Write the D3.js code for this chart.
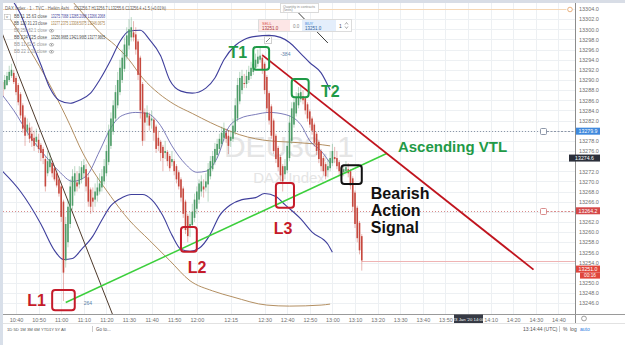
<!DOCTYPE html>
<html>
<head>
<meta charset="utf-8">
<script src="https://d3js.org/d3.v7.min.js"></script>
<style>
  body { margin: 0; background: #fff; }
  svg { display: block; font-family: 'Liberation Sans', Arial, sans-serif; }
  .axis .tick text { fill: #6f6f6f; font-size: 5.5px; }
  .axis .domain { display: none; }
  .note { font-weight: bold; }
</style>
</head>
<body>
<svg id="chart" width="625" height="345"></svg>
<script>
// Heikin Ashi 1-minute bars, first bar at 10:34
const barStart = '10:34';

const haOpen = [
  13289.6, 13288.2, 13289.0, 13290.0, 13290.8, 13291.4, 13290.4, 13289.0, 13287.2, 13285.0,
  13282.6, 13280.0, 13280.6, 13279.4, 13278.6, 13277.8, 13278.2, 13277.2, 13276.4, 13274.4,
  13271.6, 13272.8, 13273.6, 13272.6, 13271.6, 13270.4, 13269.0, 13266.0, 13254.4, 13258.0,
  13261.6, 13265.2, 13268.0, 13269.8, 13269.4, 13270.4, 13271.6, 13272.4, 13270.8, 13268.4,
  13266.8, 13266.4, 13267.2, 13268.0, 13268.8, 13270.0, 13271.6, 13273.8, 13277.0, 13279.8,
  13282.4, 13285.0, 13287.6, 13290.0, 13292.2, 13294.6, 13296.8, 13298.4, 13299.4, 13299.0,
  13297.6, 13294.4, 13289.2, 13283.6, 13282.6, 13283.0, 13282.0, 13282.2, 13280.8, 13278.6,
  13277.8, 13276.8, 13275.6, 13275.8, 13275.0, 13273.8, 13274.0, 13273.0, 13271.8, 13270.4,
  13268.6, 13266.0, 13263.2, 13261.2, 13261.4, 13262.8, 13264.6, 13266.4, 13268.0, 13269.0,
  13268.8, 13269.4, 13271.0, 13272.4, 13273.8, 13275.2, 13276.4, 13277.4, 13278.6, 13279.6,
  13279.0, 13278.0, 13278.4, 13279.8, 13282.4, 13285.8, 13288.0, 13289.4, 13289.2, 13290.0,
  13290.8, 13291.6, 13292.4, 13293.2, 13294.0, 13294.4, 13293.2, 13290.6, 13287.4, 13284.8,
  13282.0, 13279.0, 13276.6, 13274.8, 13273.0, 13271.4, 13272.2, 13274.6, 13278.0, 13281.2,
  13283.4, 13285.0, 13286.2, 13286.8, 13286.4, 13285.2, 13283.8, 13282.4, 13281.2, 13279.4,
  13277.8, 13276.0, 13274.6, 13273.4, 13272.2, 13272.6, 13273.6, 13274.8, 13274.6, 13273.8,
  13272.8, 13271.8, 13272.0, 13272.4, 13272.0, 13270.6, 13267.8, 13264.8, 13261.8, 13259.2
];
const haClose = [
  13286.8, 13290.0, 13290.8, 13291.6, 13292.0, 13289.6, 13287.6, 13285.6, 13283.0, 13280.4,
  13279.0, 13281.2, 13278.4, 13278.0, 13277.0, 13278.8, 13276.4, 13275.6, 13274.6, 13269.0,
  13274.0, 13274.4, 13271.6, 13270.4, 13269.2, 13267.6, 13263.0, 13252.0, 13261.6, 13265.0,
  13269.0, 13271.0, 13271.6, 13269.0, 13271.6, 13272.8, 13273.2, 13269.0, 13266.0, 13265.0,
  13266.0, 13268.0, 13268.8, 13269.6, 13271.0, 13273.0, 13276.0, 13280.0, 13282.4, 13285.0,
  13287.6, 13290.0, 13292.4, 13294.4, 13297.0, 13298.8, 13300.0, 13300.4, 13298.4, 13296.0,
  13291.0, 13284.0, 13278.0, 13281.6, 13283.6, 13281.0, 13282.4, 13279.6, 13276.4, 13277.0,
  13275.6, 13274.6, 13276.0, 13274.0, 13272.6, 13274.4, 13272.0, 13270.4, 13269.0, 13266.8,
  13263.6, 13260.4, 13259.2, 13261.6, 13264.0, 13266.4, 13268.0, 13269.6, 13270.0, 13268.4,
  13270.0, 13272.4, 13274.0, 13275.0, 13276.4, 13277.4, 13278.4, 13279.6, 13280.4, 13278.4,
  13277.0, 13278.8, 13281.0, 13285.0, 13289.0, 13290.4, 13290.8, 13289.2, 13290.8, 13291.6,
  13292.4, 13293.2, 13294.0, 13294.6, 13294.8, 13292.0, 13288.0, 13284.4, 13282.0, 13279.0,
  13276.0, 13274.4, 13272.8, 13271.2, 13270.0, 13273.0, 13277.0, 13281.6, 13284.4, 13285.6,
  13286.6, 13287.4, 13287.6, 13286.0, 13284.0, 13282.4, 13281.2, 13280.0, 13277.6, 13276.0,
  13274.4, 13273.0, 13272.0, 13271.0, 13273.0, 13274.6, 13276.0, 13274.4, 13273.0, 13272.0,
  13271.0, 13272.4, 13272.8, 13271.6, 13269.2, 13265.0, 13261.6, 13258.8, 13256.4, 13254.4
];
const haHigh = [
  13291.6, 13291.0, 13291.6, 13292.8, 13293.2, 13292.0, 13290.8, 13289.4, 13287.6, 13285.4,
  13283.0, 13282.4, 13281.6, 13280.8, 13280.0, 13280.4, 13279.4, 13277.6, 13276.8, 13275.0,
  13276.0, 13275.6, 13274.0, 13273.0, 13272.0, 13270.8, 13269.4, 13266.4, 13263.0, 13266.4,
  13270.4, 13272.4, 13273.0, 13272.0, 13273.0, 13274.0, 13274.4, 13273.4, 13271.6, 13268.8,
  13268.8, 13269.6, 13270.8, 13271.6, 13272.4, 13274.4, 13277.2, 13281.2, 13283.6, 13286.0,
  13289.0, 13291.6, 13294.0, 13296.0, 13298.4, 13300.4, 13302.0, 13302.4, 13301.6, 13300.4,
  13298.0, 13294.8, 13289.6, 13284.4, 13285.0, 13283.6, 13284.0, 13282.6, 13281.2, 13280.0,
  13278.2, 13277.2, 13278.0, 13276.2, 13275.4, 13276.0, 13274.4, 13273.4, 13272.2, 13270.8,
  13269.0, 13266.4, 13263.6, 13264.0, 13265.6, 13267.6, 13269.0, 13270.4, 13271.2, 13270.4,
  13271.6, 13273.6, 13275.0, 13276.0, 13277.6, 13278.4, 13279.4, 13280.8, 13281.6, 13280.4,
  13280.0, 13280.0, 13282.4, 13286.4, 13290.4, 13291.6, 13292.0, 13291.2, 13292.0, 13292.8,
  13293.6, 13294.4, 13295.2, 13296.0, 13296.4, 13295.2, 13293.6, 13291.0, 13287.8, 13285.2,
  13282.4, 13279.4, 13277.0, 13275.2, 13273.4, 13274.4, 13278.0, 13283.0, 13285.6, 13286.8,
  13287.6, 13288.6, 13288.8, 13288.0, 13286.8, 13285.6, 13284.2, 13282.8, 13281.6, 13279.8,
  13278.2, 13276.4, 13275.0, 13273.8, 13274.4, 13276.0, 13277.4, 13276.8, 13276.0, 13274.2,
  13273.2, 13273.4, 13274.0, 13273.6, 13272.4, 13271.0, 13268.2, 13265.2, 13262.2, 13259.6
];
const haLow = [
  13286.4, 13288.0, 13288.8, 13289.6, 13290.4, 13289.2, 13287.0, 13285.0, 13282.4, 13279.6,
  13277.0, 13279.0, 13277.6, 13276.8, 13276.0, 13276.8, 13275.6, 13274.0, 13273.4, 13268.0,
  13271.0, 13272.0, 13270.8, 13270.0, 13268.8, 13267.0, 13262.0, 13246.4, 13253.0, 13257.0,
  13260.8, 13264.4, 13267.2, 13268.0, 13268.6, 13269.6, 13270.8, 13268.0, 13265.0, 13263.6,
  13264.0, 13265.0, 13266.0, 13267.4, 13268.0, 13269.4, 13271.0, 13273.2, 13276.4, 13279.2,
  13281.8, 13284.4, 13287.0, 13289.4, 13291.6, 13294.0, 13296.0, 13297.6, 13297.6, 13295.0,
  13290.0, 13282.4, 13277.0, 13278.0, 13281.0, 13280.0, 13280.4, 13278.0, 13275.6, 13276.0,
  13274.0, 13272.0, 13274.4, 13273.0, 13272.0, 13273.0, 13271.2, 13269.6, 13268.4, 13266.0,
  13262.8, 13259.6, 13258.0, 13259.0, 13260.8, 13262.0, 13263.6, 13265.6, 13267.0, 13266.8,
  13268.0, 13266.0, 13270.4, 13272.0, 13273.2, 13274.6, 13275.8, 13276.8, 13278.0, 13277.6,
  13275.4, 13276.8, 13277.8, 13279.2, 13281.8, 13285.2, 13287.2, 13288.4, 13288.4, 13289.4,
  13290.2, 13291.0, 13291.8, 13292.6, 13293.4, 13291.2, 13287.2, 13283.6, 13281.2, 13278.4,
  13275.4, 13273.6, 13272.0, 13270.0, 13268.0, 13270.4, 13271.6, 13274.0, 13277.4, 13280.6,
  13282.8, 13284.4, 13285.6, 13285.2, 13283.2, 13281.8, 13280.6, 13279.2, 13276.8, 13275.2,
  13273.6, 13272.0, 13271.2, 13270.4, 13270.8, 13272.0, 13273.0, 13273.6, 13272.4, 13271.2,
  13270.4, 13271.0, 13271.4, 13270.8, 13268.4, 13264.0, 13260.8, 13258.0, 13255.6, 13252.4
];

// Bollinger bands and moving averages [time, price]
const bandUpper = [
  ['10:38', 13306.0], ['10:42', 13303.0], ['10:46', 13298.4], ['10:51', 13293.0], ['10:55', 13288.4],
  ['10:59', 13286.0], ['11:04', 13285.4], ['11:08', 13286.0], ['11:13', 13287.4], ['11:17', 13290.0],
  ['11:22', 13294.0], ['11:26', 13297.6], ['11:30', 13299.6], ['11:35', 13299.8], ['11:39', 13298.0],
  ['11:44', 13294.8], ['11:48', 13290.0], ['11:53', 13287.8], ['11:58', 13287.4], ['12:04', 13288.4],
  ['12:08', 13290.4], ['12:12', 13294.0], ['12:17', 13296.8], ['12:21', 13298.0], ['12:26', 13298.6],
  ['12:32', 13298.8], ['12:37', 13298.4], ['12:41', 13297.4], ['12:46', 13295.2], ['12:50', 13293.4],
  ['12:55', 13291.4], ['12:59', 13288.0]
];
const bandMid = [
  ['10:34', 13287.0], ['10:39', 13284.0], ['10:46', 13279.0], ['10:53', 13275.0], ['10:59', 13272.0],
  ['11:05', 13270.0], ['11:11', 13271.0], ['11:17', 13276.0], ['11:22', 13280.6], ['11:27', 13283.0],
  ['11:33', 13283.6], ['11:38', 13283.4], ['11:44', 13281.0], ['11:49', 13277.0], ['11:55', 13273.4],
  ['12:00', 13271.8], ['12:04', 13272.0], ['12:09', 13274.6], ['12:14', 13280.6], ['12:19', 13282.4],
  ['12:26', 13283.2], ['12:32', 13283.6], ['12:39', 13283.2], ['12:46', 13281.2], ['12:50', 13278.0],
  ['12:55', 13276.0], ['12:59', 13273.6]
];
const bandLower = [
  ['10:34', 13272.0], ['10:42', 13268.0], ['10:51', 13261.6], ['10:57', 13256.4], ['11:01', 13254.6],
  ['11:05', 13254.8], ['11:09', 13256.6], ['11:14', 13259.2], ['11:18', 13262.4], ['11:22', 13265.2],
  ['11:27', 13266.8], ['11:31', 13267.4], ['11:36', 13267.4], ['11:40', 13266.4], ['11:45', 13263.2],
  ['11:49', 13259.4], ['11:53', 13256.6], ['11:57', 13256.2], ['12:01', 13256.8], ['12:06', 13259.6],
  ['12:10', 13263.2], ['12:15', 13265.4], ['12:20', 13266.4], ['12:26', 13266.8], ['12:30', 13267.6],
  ['12:35', 13267.0], ['12:39', 13265.4], ['12:46', 13262.6], ['12:51', 13260.0], ['12:58', 13257.6],
  ['13:00', 13256.0]
];
const maUpper = [
  ['11:04', 13306.0], ['11:11', 13302.4], ['11:17', 13299.4], ['11:24', 13296.8], ['11:30', 13294.0],
  ['11:36', 13290.4], ['11:43', 13287.4], ['11:50', 13285.2], ['11:58', 13283.4], ['12:06', 13281.6],
  ['12:12', 13280.4], ['12:19', 13279.2], ['12:26', 13278.4], ['12:32', 13278.0], ['12:39', 13277.8],
  ['12:46', 13277.6], ['12:52', 13277.4], ['12:59', 13277.0]
];
const maLower = [
  ['10:36', 13303.0], ['10:46', 13296.0], ['10:55', 13289.0], ['11:04', 13281.0], ['11:08', 13277.0],
  ['11:22', 13267.0], ['11:30', 13262.4], ['11:39', 13258.4], ['11:48', 13254.4], ['11:57', 13250.4],
  ['12:07', 13248.4], ['12:16', 13247.2], ['12:31', 13245.6], ['12:41', 13245.4], ['12:55', 13245.6],
  ['12:59', 13245.8]
];

// drawn trend lines
const darkTrend = [['10:30', 13303.6], ['11:24', 13242.3]];
const darkTrend2 = [['12:40', 13305.5], ['12:58', 13297.3]];
const resistanceLine = [['12:29', 13294.9], ['14:29', 13252.6]];
const supportLine = [['11:02', 13246.1], ['13:24', 13275.5]];

// highlight boxes: [from, to, top price, bottom price]
const redBoxes = [
  ['10:56', '11:06', 13248.6, 13244.6],
  ['11:53', '12:00', 13261.0, 13256.1],
  ['12:35', '12:43', 13269.7, 13264.8]
];
const greenBoxes = [
  ['12:25', '12:32', 13296.5, 13292.0],
  ['12:42', '12:49:30', 13290.2, 13286.6]
];
const signalBox = ['13:04', '13:13', 13273.2, 13269.5];

const redNotes = [['L1', '10:45', 13245.4], ['L2', '11:56', 13251.9], ['L3', '12:34', 13259.6]];
const greenNotes = [['T1', '12:14', 13294.3], ['T2', '12:55', 13286.6], ['Ascending VTL', '13:29', 13275.8]];
const signalNote = [['Bearish', 'Action', 'Signal'], '13:17', 13266.5];

const priceTicks = [
  13304.0, 13302.0, 13300.0, 13298.0, 13296.0, 13294.0, 13292.0, 13290.0, 13288.0, 13286.0,
  13284.0, 13282.0, 13280.0, 13278.0, 13276.0, 13274.0, 13272.0, 13270.0, 13268.0, 13266.0,
  13264.0, 13262.0, 13260.0, 13258.0, 13256.0, 13254.0, 13252.0, 13250.0, 13248.0, 13246.0
];
const timeTicks = [
  '10:40', '10:50', '11:00', '11:10', '11:20', '11:30', '11:40', '11:50', '12:00', '12:15',
  '12:30', '12:40', '12:50', '13:00', '13:10', '13:20', '13:30', '13:40', '13:50', '14:10',
  '14:20', '14:30', '14:40'
];
const orderPrices = [13279.9, 13264.2];
const lastPrice = 13274.6;
const bidPrice = 13252.7;
const quote = '13251.0';

const legendRows = [
  ['BB 11 15.63 close', '13275.7068  13285.2068  13266.2068'],
  ['BB 120 31.23 close', '13277.2375  13308.5075  13246.0675'],
  ['BB 250 62.1 close', ''],
  ['BB 234 125 close', '13256.9665  13421.9665  13177.9665'],
  ['BB 11 62.5 close', ''],
  ['BB 22 1.28 close', '']
];
const rangeButtons = ['1D', '5D', '1M', '3M', '6M', 'YTD', '1Y', '5Y', 'All'];

const parseTime = s => {
  const [h, m, sec] = s.split(':').map(Number);
  return new Date(2020, 0, 23, h, m, sec || 0);
};

const plot = { left: 3, right: 575, top: 3, bottom: 314 };
const svg = d3.select('#chart');

const x = d3.scaleTime()
  .domain([parseTime('10:40'), parseTime('14:40')])
  .range([16, 558.4]);
const y = d3.scaleLinear()
  .domain([13304, 13246])
  .range([9, 303.06]);

svg.append('rect').attr('width', 625).attr('height', 345).attr('fill', '#fff');

svg.append('clipPath').attr('id', 'plotClip')
  .append('rect')
  .attr('x', plot.left).attr('y', plot.top)
  .attr('width', plot.right - plot.left).attr('height', plot.bottom - plot.top);

// grid
const grid = svg.append('g').attr('stroke', '#edf0f3').attr('stroke-width', 1);
grid.selectAll('line.h').data(priceTicks).join('line')
  .attr('x1', plot.left).attr('x2', plot.right)
  .attr('y1', d => Math.round(y(d)) + 0.5).attr('y2', d => Math.round(y(d)) + 0.5);
grid.selectAll('line.v').data(timeTicks.concat(['14:00'])).join('line')
  .attr('y1', plot.top).attr('y2', plot.bottom)
  .attr('x1', d => Math.round(x(parseTime(d))) + 0.5).attr('x2', d => Math.round(x(parseTime(d))) + 0.5);

// watermark
svg.append('text').attr('x', 289).attr('y', 157).attr('text-anchor', 'middle')
  .attr('font-size', 30).attr('fill', '#e5e5e5').text('DEU30, 1');
svg.append('text').attr('x', 289).attr('y', 183).attr('text-anchor', 'middle')
  .attr('font-size', 15).attr('fill', '#e5e5e5').text('DAX Index');

const chart = svg.append('g').attr('clip-path', 'url(#plotClip)');

// alert line at the top and last price line
chart.append('line').attr('x1', plot.left).attr('x2', 566)
  .attr('y1', 9.5).attr('y2', 9.5).attr('stroke', '#f5d7b5');
chart.append('line').attr('x1', x(parseTime('13:13'))).attr('x2', plot.right)
  .attr('y1', Math.round(y(13254.3)) + 0.5).attr('y2', Math.round(y(13254.3)) + 0.5)
  .attr('stroke', '#efb4b4');

// order lines
const orderColors = ['#8d97a8', '#d98c8c'];
orderPrices.forEach((p, i) => {
  const yy = Math.round(y(p)) + 0.5;
  chart.append('line').attr('x1', plot.left).attr('x2', 540)
    .attr('y1', yy).attr('y2', yy)
    .attr('stroke', orderColors[i]).attr('stroke-dasharray', '1,2');
  chart.append('line').attr('x1', 547).attr('x2', plot.right)
    .attr('y1', yy).attr('y2', yy)
    .attr('stroke', orderColors[i]).attr('stroke-dasharray', '2,1.5');
  chart.append('rect').attr('x', 540.5).attr('y', yy - 3).attr('width', 6).attr('height', 6)
    .attr('rx', 1).attr('fill', '#fff').attr('stroke', orderColors[i]);
});

const line = d3.line()
  .x(d => x(parseTime(d[0])))
  .y(d => y(d[1]))
  .curve(d3.curveMonotoneX);

[maUpper, maLower].forEach(data => {
  chart.append('path').datum(data).attr('d', line)
    .attr('fill', 'none').attr('stroke', '#b38f62').attr('stroke-width', 1);
});
chart.append('path').datum(bandMid).attr('d', line)
  .attr('fill', 'none').attr('stroke', '#5a5aa8').attr('stroke-width', 0.8);
[bandUpper, bandLower].forEach(data => {
  chart.append('path').datum(data).attr('d', line)
    .attr('fill', 'none').attr('stroke', '#3f3f9c').attr('stroke-width', 1.1);
});

const straight = d3.line().x(d => x(parseTime(d[0]))).y(d => y(d[1]));
chart.append('path').datum(darkTrend).attr('d', straight)
  .attr('stroke', '#4e3a2c').attr('stroke-width', 1);
chart.append('path').datum(darkTrend2).attr('d', straight)
  .attr('stroke', '#3a3a3a').attr('stroke-width', 1);

// candles
const bars = haOpen.map((o, i) => ({
  t: d3.timeMinute.offset(parseTime(barStart), i),
  o, c: haClose[i], h: haHigh[i], l: haLow[i]
}));
const upColor = '#4f9d69', downColor = '#c6483e';
const candles = chart.append('g');
candles.selectAll('line').data(bars).join('line')
  .attr('x1', d => x(d.t)).attr('x2', d => x(d.t))
  .attr('y1', d => y(d.h)).attr('y2', d => y(d.l))
  .attr('stroke', d => d.c >= d.o ? upColor : downColor)
  .attr('stroke-opacity', 0.5).attr('stroke-width', 0.8);
candles.selectAll('rect').data(bars).join('rect')
  .attr('x', d => x(d.t) - 0.8).attr('width', 1.6)
  .attr('y', d => y(Math.max(d.o, d.c)))
  .attr('height', d => Math.max(0.8, Math.abs(y(d.o) - y(d.c))))
  .attr('fill', d => d.c >= d.o ? upColor : downColor);

// annotations
chart.append('path').datum(supportLine).attr('d', straight)
  .attr('stroke', '#3ccf3c').attr('stroke-width', 1.5);
chart.append('path').datum(resistanceLine).attr('d', straight)
  .attr('stroke', '#c0141e').attr('stroke-width', 1.8);

const drawBox = (b, color) => {
  chart.append('rect')
    .attr('x', x(parseTime(b[0]))).attr('y', y(b[2]))
    .attr('width', x(parseTime(b[1])) - x(parseTime(b[0])))
    .attr('height', y(b[3]) - y(b[2]))
    .attr('rx', 3).attr('fill', 'none')
    .attr('stroke', color).attr('stroke-width', 2);
};
redBoxes.forEach(b => drawBox(b, '#c51b2a'));
greenBoxes.forEach(b => drawBox(b, '#1f9a47'));
drawBox(signalBox, '#111');

const drawNote = (n, color) => {
  svg.append('text').attr('class', 'note')
    .attr('x', x(parseTime(n[1]))).attr('y', y(n[2]))
    .attr('font-size', n[0].length > 2 ? 15 : 16)
    .attr('fill', color).text(n[0]);
};
redNotes.forEach(n => drawNote(n, '#c51b2a'));
greenNotes.forEach(n => drawNote(n, '#1f9a47'));
const sig = svg.append('text').attr('class', 'note')
  .attr('x', x(parseTime(signalNote[1]))).attr('y', y(signalNote[2]))
  .attr('font-size', 16).attr('fill', '#111');
signalNote[0].forEach((w, i) => {
  sig.append('tspan').attr('x', x(parseTime(signalNote[1]))).attr('dy', i ? 17 : 0).text(w);
});

svg.append('text').attr('x', x(parseTime('11:10'))).attr('y', y(13245.6))
  .attr('font-size', 5).attr('fill', '#5b7fa8').text('264');
svg.append('text').attr('x', x(parseTime('12:37'))).attr('y', y(13294.7))
  .attr('font-size', 5).attr('fill', '#5b7fa8').text('-384');

// pencil icon and trading panel
svg.append('rect').attr('x', 264.5).attr('y', 36.5).attr('width', 7).attr('height', 7)
  .attr('fill', '#fff').attr('stroke', '#cfcfcf');
svg.append('line').attr('x1', 266).attr('y1', 42).attr('x2', 270).attr('y2', 38).attr('stroke', '#888');

svg.append('rect').attr('x', 280.5).attr('y', 3.5).attr('width', 38).attr('height', 9)
  .attr('fill', '#fff').attr('stroke', '#dadada');
svg.append('text').attr('x', 283).attr('y', 7.5).attr('font-size', 3.5).attr('fill', '#888').text('Quantity in contracts');
svg.append('text').attr('x', 283).attr('y', 11).attr('font-size', 3.5).attr('fill', '#888').text('(units)');

const panel = svg.append('g');
panel.append('rect').attr('x', 258.5).attr('y', 19.5).attr('width', 93).attr('height', 12)
  .attr('fill', '#fff').attr('stroke', '#dcdcdc');
panel.append('rect').attr('x', 259).attr('y', 20).attr('width', 31).attr('height', 11).attr('fill', '#fde6e6');
panel.append('rect').attr('x', 302).attr('y', 20).attr('width', 34).attr('height', 11).attr('fill', '#e4eefb');
panel.append('text').attr('x', 262).attr('y', 24.5).attr('font-size', 4).attr('fill', '#d9534f').text('SELL');
panel.append('text').attr('x', 262).attr('y', 29.5).attr('font-size', 4.5).attr('fill', '#a33').text(quote);
panel.append('text').attr('x', 293).attr('y', 27.5).attr('font-size', 4.5).attr('fill', '#888').text('0.0');
panel.append('text').attr('x', 305).attr('y', 24.5).attr('font-size', 4).attr('fill', '#3d86d8').text('BUY');
panel.append('text').attr('x', 305).attr('y', 29.5).attr('font-size', 4.5).attr('fill', '#2f5f9e').text(quote);
panel.append('text').attr('x', 339).attr('y', 28).attr('font-size', 5).attr('fill', '#555').text('1');
panel.append('path').attr('d', 'M345,24.5 L346.5,22.5 L348,24.5 M345,26.5 L346.5,28.5 L348,26.5')
  .attr('fill', 'none').attr('stroke', '#777').attr('stroke-width', 0.6);

// legend
const legend = svg.append('g').attr('font-size', 4.5);
legend.append('text').attr('x', 5).attr('y', 10).attr('fill', '#666')
  .attr('textLength', 64).attr('lengthAdjust', 'spacingAndGlyphs')
  .text('DAX Index · 1 · TVC · Heikin Ashi');
legend.append('text').attr('x', 74).attr('y', 10).attr('fill', '#555')
  .attr('textLength', 92).attr('lengthAdjust', 'spacingAndGlyphs')
  .text('O13256.7 H13256.7 L13255.6 C13256.4 +1.5 (+0.01%)');
legend.append('rect').attr('x', 4.5).attr('y', 14.5).attr('width', 6).attr('height', 5)
  .attr('fill', '#fff').attr('stroke', '#bbb').attr('stroke-width', 0.6);
legend.append('text').attr('x', 6).attr('y', 18.3).attr('font-size', 4).attr('fill', '#666').text('v');
const legendColors = ['#3f3f9c', '#a57c45', '#999', '#444', '#999', '#999'];
legendRows.forEach((r, i) => {
  const yy = 18.3 + i * 7;
  legend.append('text').attr('x', 14).attr('y', yy).attr('fill', r[1] ? '#555' : '#999')
    .attr('textLength', 33).attr('lengthAdjust', 'spacingAndGlyphs').text(r[0]);
  if (r[1]) {
    legend.append('text').attr('x', 51).attr('y', yy).attr('fill', legendColors[i])
      .attr('textLength', 54).attr('lengthAdjust', 'spacingAndGlyphs').text(r[1]);
  } else {
    legend.append('ellipse').attr('cx', 51.5).attr('cy', yy - 1.6).attr('rx', 2.2).attr('ry', 1.4)
      .attr('fill', 'none').attr('stroke', '#888').attr('stroke-width', 0.6);
    legend.append('circle').attr('cx', 51.5).attr('cy', yy - 1.6).attr('r', 0.7).attr('fill', '#888');
  }
});

// frame and axes
svg.append('rect').attr('width', 625).attr('height', 3).attr('fill', '#d8dde6');
svg.append('rect').attr('width', 3).attr('height', 345).attr('fill', '#d8dfe9');
svg.append('line').attr('x1', plot.right + 0.5).attr('x2', plot.right + 0.5)
  .attr('y1', plot.top).attr('y2', 323).attr('stroke', '#8c8c8c');
svg.append('line').attr('x1', plot.left).attr('x2', 625)
  .attr('y1', plot.bottom + 0.5).attr('y2', plot.bottom + 0.5).attr('stroke', '#9a9a9a');
svg.append('line').attr('x1', plot.left).attr('x2', 625)
  .attr('y1', 323.5).attr('y2', 323.5).attr('stroke', '#e2e2e2');

// price labels hide the ticks they cover
const coveredY = [y(orderPrices[0]), y(lastPrice), y(orderPrices[1]), y(bidPrice), y(bidPrice) + 6.5];
svg.append('g').attr('class', 'axis')
  .attr('transform', `translate(${plot.right},0)`)
  .call(d3.axisRight(y).tickValues(priceTicks).tickFormat(d3.format('.1f')).tickSize(0).tickPadding(4))
  .call(g => g.selectAll('.tick text')
    .attr('display', d => coveredY.some(c => Math.abs(c - y(d)) < 6.5) ? 'none' : null));

svg.append('g').attr('class', 'axis')
  .attr('transform', `translate(0,${plot.bottom})`)
  .call(d3.axisBottom(x).tickValues(timeTicks.map(parseTime)).tickFormat(d3.timeFormat('%H:%M')).tickSize(0).tickPadding(4));

svg.append('circle').attr('cx', 570).attr('cy', 9.5).attr('r', 2.3)
  .attr('fill', '#fff').attr('stroke', '#e0904a').attr('stroke-width', 0.7);

const priceLabel = (p, color, text, x0, w) => {
  const yy = y(p);
  svg.append('rect').attr('x', x0).attr('y', yy - 3.5).attr('width', w).attr('height', 7).attr('fill', color);
  svg.append('text').attr('x', x0 + w / 2).attr('y', yy).attr('dy', '0.35em')
    .attr('text-anchor', 'middle').attr('font-size', 5.2).attr('fill', '#fff').text(text);
};
priceLabel(orderPrices[0], '#3f88dc', d3.format('.1f')(orderPrices[0]), 576, 24);
priceLabel(lastPrice, '#2b2f3a', d3.format('.1f')(lastPrice), 569, 31);
priceLabel(orderPrices[1], '#d44848', d3.format('.1f')(orderPrices[1]), 576, 24);
priceLabel(bidPrice, '#e0463c', quote, 576, 24);
svg.append('rect').attr('x', 580).attr('y', y(bidPrice) + 3.5).attr('width', 20).attr('height', 6).attr('fill', '#e0463c');
svg.append('text').attr('x', 590).attr('y', y(bidPrice) + 6.5).attr('dy', '0.35em')
  .attr('text-anchor', 'middle').attr('font-size', 4.8).attr('fill', '#fff').text('00:16');

// crosshair date
svg.append('rect').attr('x', x(parseTime('14:00')) - 14).attr('y', 314.5).attr('width', 29).attr('height', 8.5)
  .attr('fill', '#363a45');
svg.append('text').attr('x', x(parseTime('14:00')) + 0.5).attr('y', 319).attr('dy', '0.35em')
  .attr('text-anchor', 'middle').attr('font-size', 4.3).attr('fill', '#fff').text("23 Jan '20  14:00");

svg.append('circle').attr('cx', 584).attr('cy', 318.5).attr('r', 2.4)
  .attr('fill', 'none').attr('stroke', '#777').attr('stroke-width', 0.7);

// bottom toolbar
const btnX = [7, 13.5, 20, 27, 34, 41, 49, 55, 61];
svg.append('g').attr('font-size', 4.2).attr('fill', '#555')
  .selectAll('text').data(rangeButtons).join('text')
  .attr('x', (d, i) => btnX[i]).attr('y', 331).text(d => d);
svg.append('line').attr('x1', 92.5).attr('x2', 92.5).attr('y1', 326).attr('y2', 332).attr('stroke', '#ccc');
svg.append('text').attr('x', 96).attr('y', 331).attr('font-size', 4.5).attr('fill', '#555').text('Go to...');
svg.append('text').attr('x', 523).attr('y', 331).attr('font-size', 5).attr('fill', '#555').text('13:14:44 (UTC)');
svg.append('line').attr('x1', 559.5).attr('x2', 559.5).attr('y1', 326).attr('y2', 332).attr('stroke', '#ccc');
svg.append('text').attr('x', 563).attr('y', 331).attr('font-size', 5).attr('fill', '#555').text('%');
svg.append('text').attr('x', 570).attr('y', 331).attr('font-size', 5).attr('fill', '#555').text('log');
svg.append('text').attr('x', 580).attr('y', 331).attr('font-size', 5).attr('fill', '#2f7de1').text('auto');
</script>
</body>
</html>
